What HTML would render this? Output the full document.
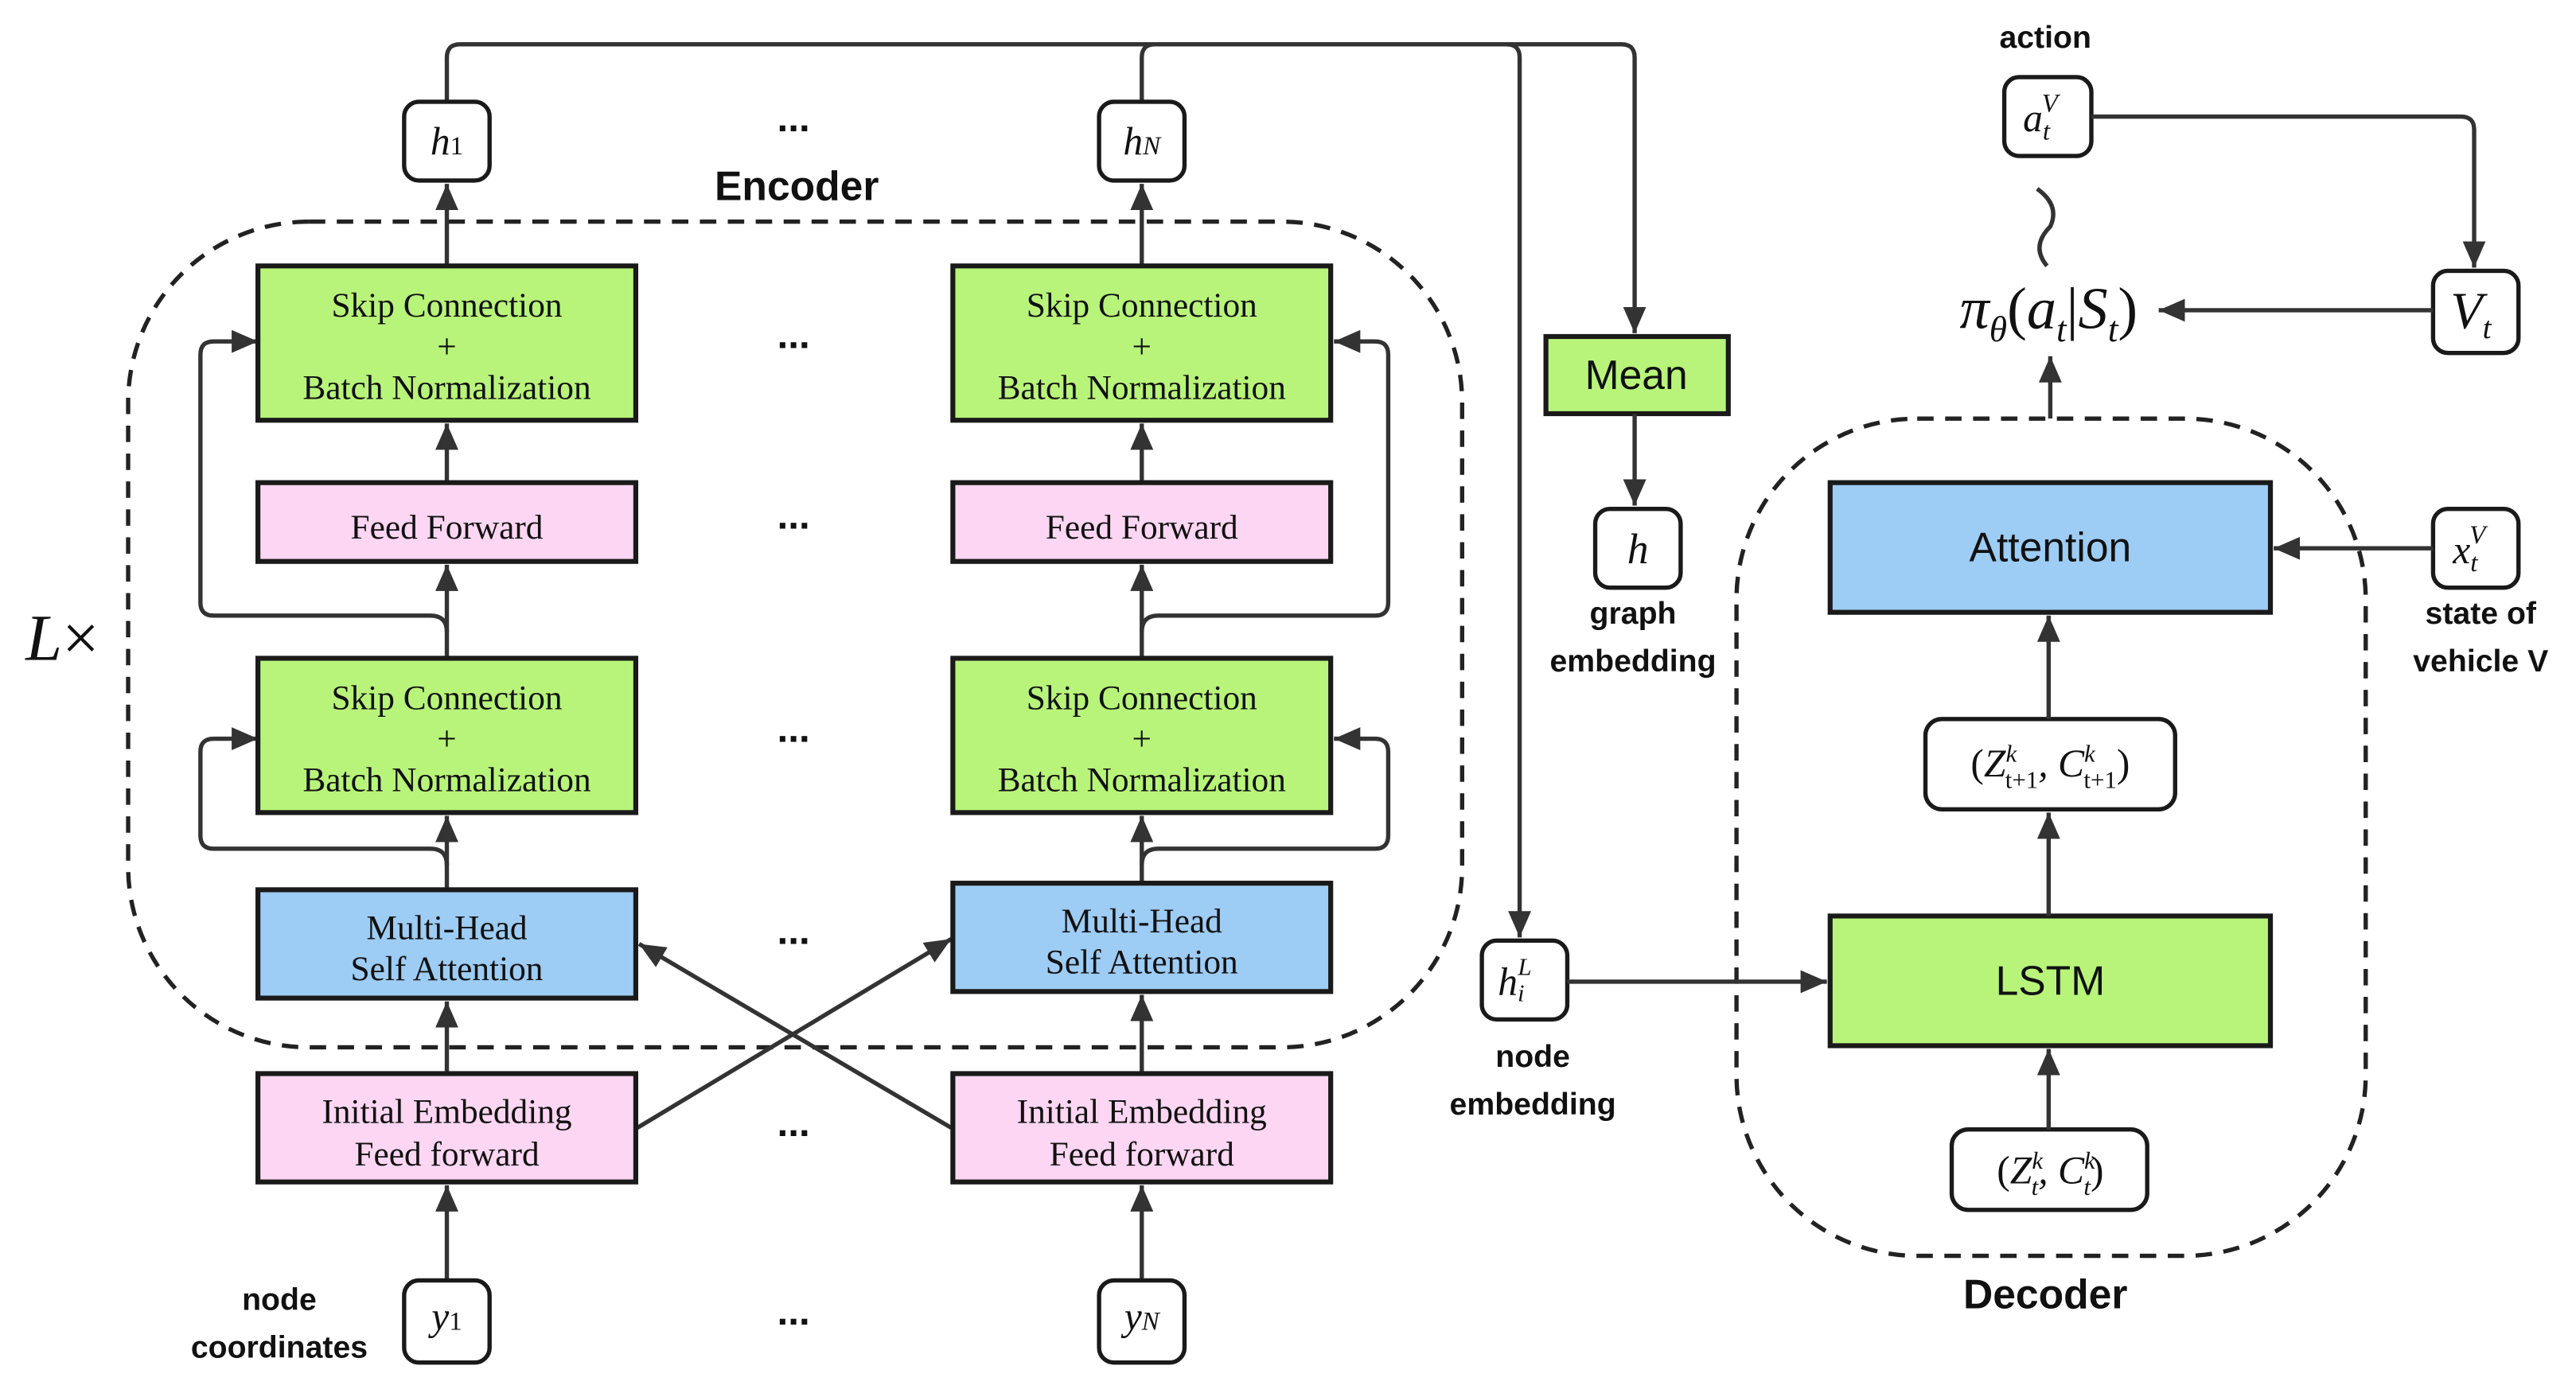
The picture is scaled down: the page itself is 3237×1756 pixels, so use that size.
<!DOCTYPE html>
<html><head><meta charset="utf-8"><style>
html,body{margin:0;padding:0;background:#fff}
svg{display:block}
.s{font-family:"Liberation Serif",serif;font-size:21px;fill:#111;text-anchor:middle}
.m{font-family:"Liberation Serif",serif;font-style:italic;fill:#111;text-anchor:middle}
.b{font-family:"Liberation Sans",sans-serif;font-weight:bold;fill:#111;text-anchor:middle}
.n{font-family:"Liberation Sans",sans-serif;fill:#111;text-anchor:middle}
.l{fill:none;stroke:#333;stroke-width:2.6}
.bx{stroke:#1a1a1a;stroke-width:3}
.rb{fill:#fff;stroke:#1a1a1a;stroke-width:2.6}
</style></head><body>
<svg width="3237" height="1756" viewBox="0 0 1568 851" preserveAspectRatio="none" xmlns="http://www.w3.org/2000/svg">
<defs>
<marker id="h" viewBox="0 0 16 14" markerWidth="16" markerHeight="14" refX="16" refY="7" orient="auto" markerUnits="userSpaceOnUse"><path d="M0,0 L16,7 L0,14 z" fill="#333"/></marker></defs>

<rect x="78" y="135" width="812" height="503" rx="110" fill="none" stroke="#222" stroke-width="2.6" stroke-dasharray="10,7"/>
<rect x="1057" y="255" width="383" height="510" rx="110" fill="none" stroke="#222" stroke-width="2.6" stroke-dasharray="10,7"/>

<path class="l" d="M272,62 V35 Q272,27 280,27 H987 Q995,27 995,35 V203" marker-end="url(#h)"/>
<path class="l" d="M695,62 V35 Q695,27 703,27"/>
<path class="l" d="M917,27 Q925,27 925,35 V571" marker-end="url(#h)"/>

<path class="l" d="M272,162 V112" marker-end="url(#h)"/>
<path class="l" d="M272,294 V258" marker-end="url(#h)"/>
<path class="l" d="M272,401 V344" marker-end="url(#h)"/>
<path class="l" d="M272,542 V497" marker-end="url(#h)"/>
<path class="l" d="M272,654 V610" marker-end="url(#h)"/>
<path class="l" d="M272,780 V722" marker-end="url(#h)"/>
<path class="l" d="M272,385 Q272,375 262,375 H130 Q122,375 122,367 V216 Q122,208 130,208 H157" marker-end="url(#h)"/>
<path class="l" d="M272,527 Q272,517 262,517 H130 Q122,517 122,509 V458 Q122,450 130,450 H157" marker-end="url(#h)"/>
<path class="l" d="M695,162 V112" marker-end="url(#h)"/>
<path class="l" d="M695,294 V258" marker-end="url(#h)"/>
<path class="l" d="M695,401 V344" marker-end="url(#h)"/>
<path class="l" d="M695,538 V497" marker-end="url(#h)"/>
<path class="l" d="M695,654 V606" marker-end="url(#h)"/>
<path class="l" d="M695,780 V722" marker-end="url(#h)"/>
<path class="l" d="M695,385 Q695,375 705,375 H837 Q845,375 845,367 V216 Q845,208 837,208 H812" marker-end="url(#h)"/>
<path class="l" d="M695,527 Q695,517 705,517 H837 Q845,517 845,509 V458 Q845,450 837,450 H812" marker-end="url(#h)"/>
<path class="l" d="M388,687 L579,572" marker-end="url(#h)"/>
<path class="l" d="M579,687 L389,575" marker-end="url(#h)"/>

<rect class="bx" x="157" y="162" width="230" height="94" fill="#b8f47a"/>
<text class="s" x="272" y="193">Skip Connection</text><text class="s" x="272" y="218">+</text><text class="s" x="272" y="243">Batch Normalization</text>
<rect class="bx" x="157" y="294" width="230" height="48" fill="#fcd6f2"/>
<text class="s" x="272" y="328">Feed Forward</text>
<rect class="bx" x="157" y="401" width="230" height="94" fill="#b8f47a"/>
<text class="s" x="272" y="432">Skip Connection</text><text class="s" x="272" y="457">+</text><text class="s" x="272" y="482">Batch Normalization</text>
<rect class="bx" x="157" y="542" width="230" height="66" fill="#9dccf4"/>
<text class="s" x="272" y="572">Multi-Head</text><text class="s" x="272" y="597">Self Attention</text>
<rect class="bx" x="157" y="654" width="230" height="66" fill="#fcd6f2"/>
<text class="s" x="272" y="684">Initial Embedding</text><text class="s" x="272" y="710">Feed forward</text>
<rect class="bx" x="580" y="162" width="230" height="94" fill="#b8f47a"/>
<text class="s" x="695" y="193">Skip Connection</text><text class="s" x="695" y="218">+</text><text class="s" x="695" y="243">Batch Normalization</text>
<rect class="bx" x="580" y="294" width="230" height="48" fill="#fcd6f2"/>
<text class="s" x="695" y="328">Feed Forward</text>
<rect class="bx" x="580" y="401" width="230" height="94" fill="#b8f47a"/>
<text class="s" x="695" y="432">Skip Connection</text><text class="s" x="695" y="457">+</text><text class="s" x="695" y="482">Batch Normalization</text>
<rect class="bx" x="580" y="538" width="230" height="66" fill="#9dccf4"/>
<text class="s" x="695" y="568">Multi-Head</text><text class="s" x="695" y="593">Self Attention</text>
<rect class="bx" x="580" y="654" width="230" height="66" fill="#fcd6f2"/>
<text class="s" x="695" y="684">Initial Embedding</text><text class="s" x="695" y="710">Feed forward</text>

<rect class="rb" x="246" y="62" width="52" height="48" rx="9"/><text class="m" x="272" y="94" font-size="24">h<tspan font-style="normal" font-size="16">1</tspan></text>
<rect class="rb" x="669" y="62" width="52" height="48" rx="9"/><text class="m" x="695" y="94" font-size="24">h<tspan font-size="16">N</tspan></text>
<rect class="rb" x="246" y="780" width="52" height="50" rx="9"/><text class="m" x="272" y="810" font-size="24">y<tspan font-style="normal" font-size="16">1</tspan></text>
<rect class="rb" x="669" y="780" width="52" height="50" rx="9"/><text class="m" x="695" y="810" font-size="24">y<tspan font-size="16">N</tspan></text>

<g class="b" font-size="24">
<text x="483" y="80">...</text><text x="483" y="212">...</text><text x="483" y="322">...</text><text x="483" y="452">...</text><text x="483" y="575">...</text><text x="483" y="692">...</text><text x="483" y="807">...</text></g>

<text class="b" x="485" y="122" font-size="25">Encoder</text>
<text class="m" x="38" y="402" font-size="40">L<tspan font-style="normal">×</tspan></text>
<text class="b" x="170" y="798" font-size="19">node</text><text class="b" x="170" y="827" font-size="19">coordinates</text>

<rect class="bx" x="941" y="205" width="111" height="47" fill="#b8f47a"/>
<text class="n" x="996" y="237" font-size="25">Mean</text>
<path class="l" d="M995,252 V308" marker-end="url(#h)"/>
<rect class="rb" x="971" y="310" width="52" height="48" rx="9"/><text class="m" x="997" y="343" font-size="26">h</text>
<text class="b" x="994" y="380" font-size="19">graph</text><text class="b" x="994" y="409" font-size="19">embedding</text>

<rect class="rb" x="902" y="573" width="52" height="48" rx="9"/><text class="m" x="922" y="606" font-size="24">h<tspan font-size="15" dy="4">i</tspan><tspan font-size="15" dx="-4" dy="-16">L</tspan></text>
<text class="b" x="933" y="650" font-size="19">node</text><text class="b" x="933" y="679" font-size="19">embedding</text>
<path class="l" d="M954,598 H1112" marker-end="url(#h)"/>

<rect class="bx" x="1114" y="294" width="268" height="79" fill="#9dccf4"/>
<text class="n" x="1248" y="342" font-size="25">Attention</text>
<rect class="bx" x="1114" y="558" width="268" height="79" fill="#b8f47a"/>
<text class="n" x="1248" y="606" font-size="25">LSTM</text>
<rect class="rb" x="1172" y="438" width="152" height="55" rx="10"/>
<text class="m" x="1248" y="473" font-size="24"><tspan font-style="normal">(</tspan>Z<tspan font-size="15" dy="-9">k</tspan><tspan font-size="15" dx="-7" dy="16" font-style="normal">t+1</tspan><tspan dy="-7">,</tspan> C<tspan font-size="15" dy="-9">k</tspan><tspan font-size="15" dx="-7" dy="16" font-style="normal">t+1</tspan><tspan dy="-7" font-style="normal">)</tspan></text>
<rect class="rb" x="1188" y="688" width="119" height="49" rx="10"/>
<text class="m" x="1248" y="721" font-size="24"><tspan font-style="normal">(</tspan>Z<tspan font-size="15" dy="-9">k</tspan><tspan font-size="15" dx="-7" dy="16">t</tspan><tspan dy="-7">,</tspan> C<tspan font-size="15" dy="-9">k</tspan><tspan font-size="15" dx="-7" dy="16">t</tspan><tspan dy="-7" font-style="normal">)</tspan></text>
<path class="l" d="M1247,688 V639" marker-end="url(#h)"/>
<path class="l" d="M1247,558 V495" marker-end="url(#h)"/>
<path class="l" d="M1247,438 V375" marker-end="url(#h)"/>
<path class="l" d="M1248,255 V217" marker-end="url(#h)"/>
<text class="b" x="1245" y="797" font-size="25">Decoder</text>

<text class="m" x="1247" y="200" font-size="36">π<tspan font-size="22" dy="8">θ</tspan><tspan font-style="normal" dy="-8">(</tspan>a<tspan font-size="22" dy="8">t</tspan><tspan font-style="normal" dy="-8">|</tspan>S<tspan font-size="22" dy="8">t</tspan><tspan font-style="normal" dy="-8">)</tspan></text>
<path class="l" d="M1240,115 Q1254,125 1248,138 Q1236,150 1246,162"/>
<rect class="rb" x="1220" y="47" width="53" height="48" rx="9"/><text class="m" x="1242" y="80" font-size="24">a<tspan font-size="16" dy="5">t</tspan><tspan font-size="16" dx="-5" dy="-17">V</tspan></text>
<text class="b" x="1245" y="29" font-size="19">action</text>
<path class="l" d="M1273,71 H1498 Q1506,71 1506,79 V163" marker-end="url(#h)"/>
<rect class="rb" x="1481" y="165" width="52" height="50" rx="9"/><text class="m" x="1504" y="200" font-size="32">V<tspan font-size="19" dy="6">t</tspan></text>
<path class="l" d="M1481,189 H1314" marker-end="url(#h)"/>
<rect class="rb" x="1481" y="310" width="52" height="48" rx="9"/><text class="m" x="1503" y="343" font-size="24">x<tspan font-size="16" dy="5">t</tspan><tspan font-size="16" dx="-5" dy="-17">V</tspan></text>
<path class="l" d="M1481,334 H1384" marker-end="url(#h)"/>
<text class="b" x="1510" y="380" font-size="19">state of</text><text class="b" x="1510" y="409" font-size="19">vehicle V</text>
</svg>
</body></html>
